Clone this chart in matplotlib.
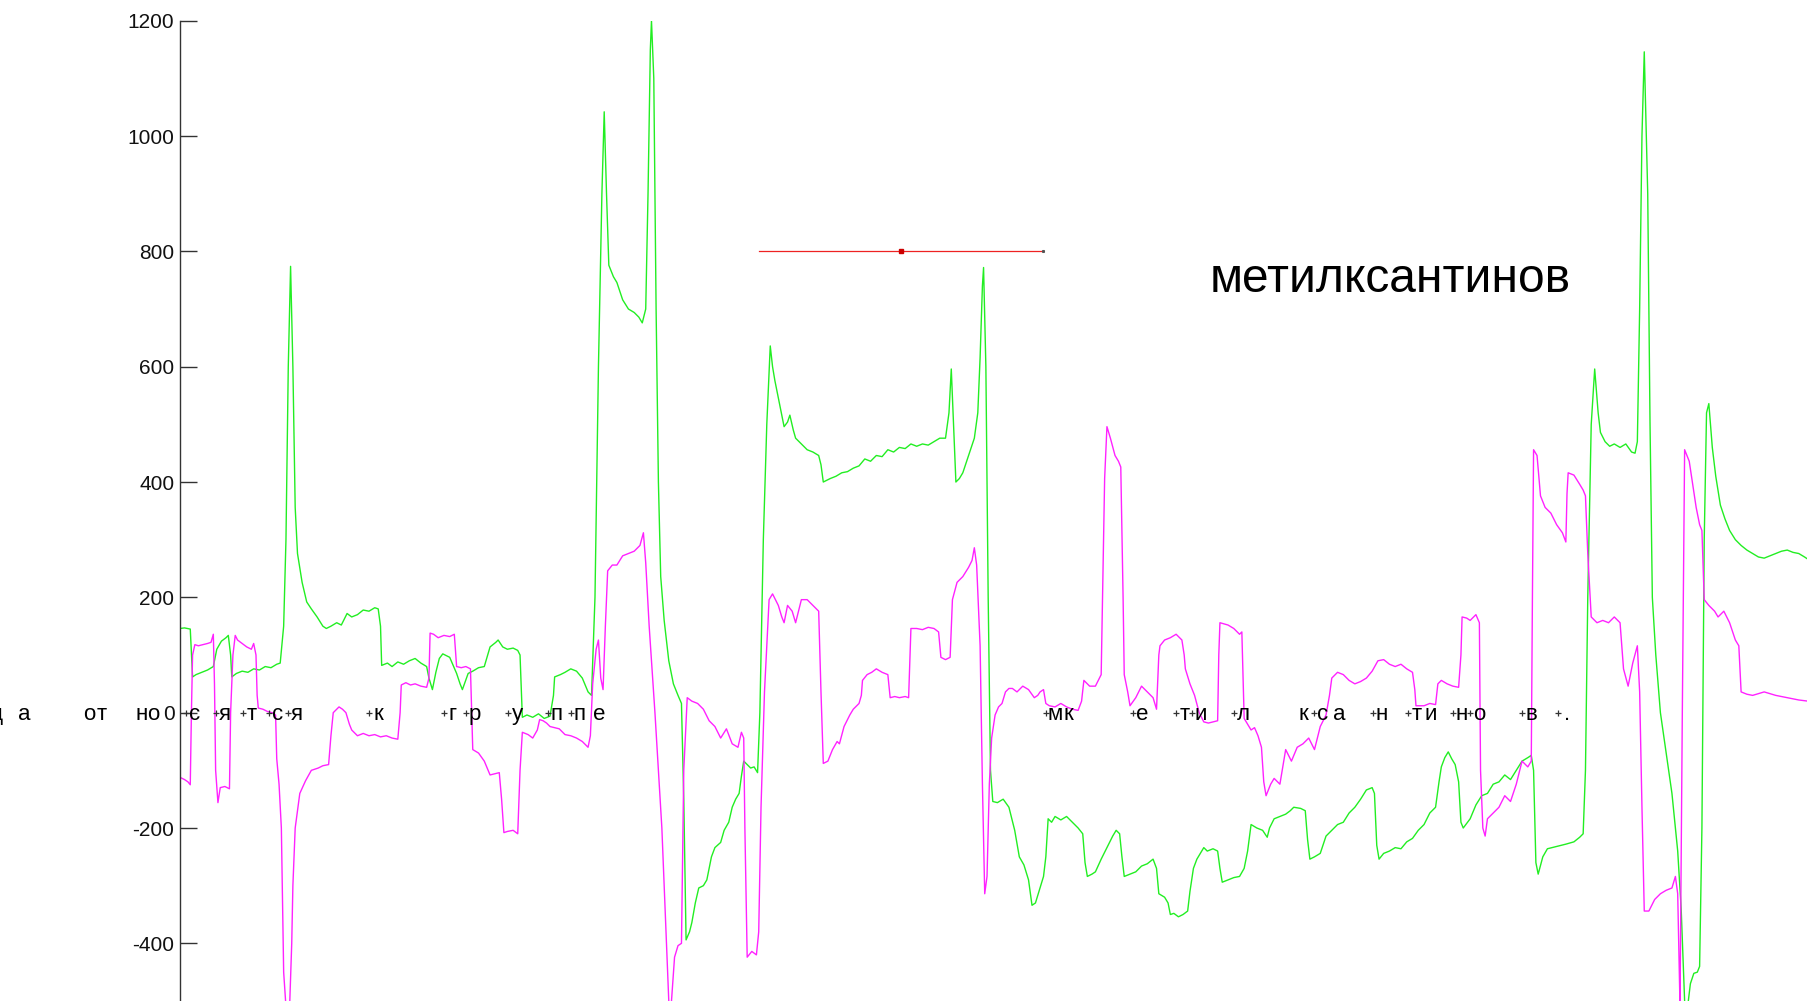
import matplotlib
matplotlib.use("Agg")
import matplotlib.pyplot as plt

plt.rcParams['font.family'] = ['Liberation Sans', 'DejaVu Sans']

# ---- data (x in chart units, y values) ----
green_t = [156,160,165,167,170,175,180,185,188,192,196,198,200,201,205,210,215,220,225,230,235,240,243,246,248,250,252,254,256,258,262,266,270,275,280,283,287,292,296,301,305,310,315,320,325,328,330,331,336,340,345,350,355,360,365,370,372,375,378,381,384,390,396,399,401,406,410,415,420,425,430,432,436,440,445,449,451,453,457,462,467,472,477,480,481,486,490,495,500,505,510,513,516,519,522,524,526,528,532,535,540,545,550,554,557,560,562,564,565,567,569,571,573,576,580,584,588,591,593,595,598,600,603,606,610,613,617,620,625,628,632,635,638,641,643,645,648,651,654,657,659,662,665,668,670,672,676,680,683,685,688,690,695,700,705,710,712,714,720,725,730,735,740,745,750,755,760,765,770,775,780,785,790,795,800,805,810,815,820,823,825,827,829,832,835,840,845,848,850,852,853,855,857,859,861,865,870,875,880,884,888,892,895,898,901,905,907,909,912,915,920,925,930,935,939,941,943,947,950,955,960,965,968,971,973,975,980,985,990,995,1000,1003,1005,1010,1013,1015,1018,1022,1026,1030,1032,1035,1038,1041,1044,1047,1052,1056,1058,1060,1065,1070,1075,1079,1082,1085,1090,1095,1099,1101,1105,1110,1115,1119,1122,1128,1132,1134,1136,1140,1145,1150,1155,1160,1165,1170,1175,1180,1185,1190,1192,1194,1196,1200,1205,1210,1215,1220,1225,1230,1235,1240,1245,1248,1250,1253,1256,1259,1262,1265,1267,1269,1272,1275,1280,1285,1290,1295,1300,1305,1310,1315,1320,1325,1328,1330,1332,1334,1338,1342,1350,1358,1365,1370,1373,1375,1377,1380,1383,1386,1388,1392,1396,1400,1405,1410,1415,1418,1420,1422,1424,1426,1429,1431,1433,1436,1440,1445,1450,1455,1458,1461,1463,1466,1469,1472,1474,1476,1478,1480,1482,1485,1488,1492,1496,1500,1505,1510,1515,1520,1525,1530,1535,1540,1545,1550,1555,1560,1565,1568]
green_v = [146,147,145,62,66,70,74,80,110,124,130,134,100,62,68,72,70,76,74,80,78,84,86,150,300,600,774,600,356,276,226,192,180,166,150,146,150,156,152,172,166,170,178,176,182,180,150,82,86,80,88,84,90,94,86,80,60,40,70,94,102,96,68,50,40,68,72,78,80,114,122,126,114,110,112,108,100,-8,-4,-8,-2,-10,-6,30,62,66,70,76,72,60,36,30,200,600,900,1042,900,776,756,746,716,700,694,686,676,700,900,1150,1200,1100,700,400,236,160,90,50,30,16,-150,-394,-380,-364,-330,-304,-300,-290,-250,-234,-225,-204,-190,-164,-150,-140,-110,-84,-90,-96,-94,-104,0,300,500,636,600,576,536,496,504,516,490,476,466,456,452,446,430,400,406,410,416,418,424,428,440,436,446,444,456,452,460,458,466,462,466,464,470,476,476,520,596,500,400,406,416,446,476,520,616,740,772,600,200,-100,-154,-156,-150,-164,-204,-250,-264,-290,-334,-330,-310,-284,-250,-184,-190,-180,-186,-180,-190,-200,-210,-260,-284,-280,-276,-254,-234,-214,-204,-210,-250,-284,-280,-276,-266,-262,-254,-270,-314,-320,-330,-350,-348,-354,-350,-344,-310,-270,-254,-244,-234,-240,-236,-240,-270,-294,-290,-286,-284,-270,-240,-194,-200,-204,-216,-200,-184,-180,-176,-170,-164,-166,-170,-220,-254,-250,-244,-214,-204,-194,-190,-174,-164,-150,-134,-130,-140,-230,-254,-244,-240,-234,-236,-224,-218,-204,-194,-174,-164,-120,-94,-78,-68,-80,-90,-120,-190,-200,-192,-184,-160,-144,-140,-124,-120,-108,-116,-100,-84,-78,-74,-100,-260,-280,-250,-236,-232,-228,-224,-216,-210,-100,200,500,596,520,486,470,462,466,460,466,452,450,470,700,1000,1146,900,500,200,100,0,-70,-140,-240,-340,-500,-520,-470,-452,-450,-440,-200,300,520,536,460,410,360,336,316,300,290,282,276,270,268,272,276,280,282,278,276,270,266]

magenta_t = [156,160,163,165,166,167,169,172,176,180,183,185,186,187,189,191,195,199,200,202,204,206,210,214,218,220,222,223,224,228,232,236,239,240,242,244,246,248,251,253,254,256,260,265,270,276,280,285,287,289,292,294,297,300,303,305,310,315,320,325,330,335,340,345,347,348,352,356,360,365,370,372,373,376,380,385,390,394,396,400,404,408,410,415,420,425,429,433,435,437,440,445,449,451,453,458,462,466,468,471,474,477,481,485,490,495,500,505,510,512,514,517,519,521,523,525,527,531,535,540,545,550,555,558,560,563,566,568,571,574,577,580,582,585,588,591,593,596,600,605,610,615,620,625,630,635,640,643,645,646,648,652,656,658,660,663,667,670,675,678,680,683,687,690,693,695,700,705,710,712,714,718,722,726,728,732,737,740,745,747,748,752,756,760,765,770,772,776,780,785,788,790,795,800,805,810,814,816,820,824,826,830,835,840,843,845,847,849,850,852,854,856,858,860,863,866,869,872,875,878,882,887,892,897,900,902,905,907,910,915,920,925,930,935,938,940,945,950,955,957,958,960,963,967,970,972,974,975,978,980,985,990,995,1000,1003,1005,1006,1010,1015,1020,1025,1027,1028,1032,1036,1040,1044,1048,1052,1056,1057,1058,1065,1070,1075,1077,1079,1082,1085,1088,1091,1094,1096,1098,1102,1105,1110,1115,1120,1125,1130,1135,1140,1145,1150,1153,1155,1160,1165,1170,1175,1180,1185,1190,1195,1200,1205,1210,1215,1220,1225,1227,1228,1235,1240,1245,1247,1250,1255,1260,1265,1267,1268,1272,1275,1280,1283,1284,1286,1288,1290,1295,1300,1305,1310,1315,1320,1325,1328,1329,1330,1333,1336,1340,1345,1350,1355,1358,1359,1360,1365,1370,1373,1375,1377,1380,1385,1390,1395,1400,1405,1408,1412,1416,1420,1422,1424,1426,1430,1435,1440,1445,1450,1453,1455,1457,1459,1461,1465,1468,1471,1474,1476,1478,1482,1487,1490,1495,1500,1505,1508,1510,1515,1520,1530,1540,1550,1560,1568]
magenta_v = [-112,-116,-120,-125,0,100,118,116,118,120,122,136,50,-100,-156,-130,-128,-132,0,100,134,126,120,114,110,120,100,30,8,6,2,0,-4,-80,-124,-200,-450,-510,-520,-400,-300,-200,-140,-118,-100,-96,-92,-90,-40,0,6,10,6,0,-20,-30,-40,-36,-40,-38,-42,-40,-44,-46,0,48,52,48,50,46,44,60,138,136,130,134,132,136,80,78,80,76,-64,-70,-84,-108,-106,-104,-150,-208,-206,-204,-210,-100,-34,-38,-44,-30,-12,-14,-18,-24,-26,-28,-38,-40,-44,-50,-60,-40,50,110,126,60,40,150,246,256,256,272,276,280,290,312,260,150,60,0,-100,-200,-350,-500,-510,-424,-404,-400,-100,26,20,16,6,-14,-24,-44,-28,-54,-60,-34,-44,-200,-424,-414,-420,-380,-164,36,196,206,186,166,156,186,176,156,180,196,196,186,176,36,-88,-84,-64,-50,-54,-24,-4,6,16,30,56,66,70,76,70,66,26,28,26,28,26,146,146,144,148,146,140,96,92,96,196,226,236,252,264,286,256,160,116,-124,-314,-284,-124,-44,-4,10,16,36,42,42,36,46,40,26,30,36,40,16,12,10,16,10,6,4,20,56,46,46,66,300,406,496,476,446,436,426,200,66,36,12,26,46,36,26,6,100,116,126,130,136,126,100,76,50,30,0,-16,-18,-16,-14,100,156,152,146,136,140,-10,-20,-30,-26,-40,-60,-120,-144,-124,-114,-124,-64,-84,-60,-54,-44,-64,-24,-4,30,60,70,66,56,50,54,60,72,90,92,84,80,84,76,70,40,12,12,16,14,50,56,50,46,44,100,166,164,160,170,156,-100,-200,-214,-184,-174,-164,-144,-154,-124,-84,-94,-84,200,456,446,376,356,346,326,312,296,380,416,412,396,386,376,276,166,156,160,156,166,156,76,46,86,116,36,-164,-344,-344,-324,-314,-308,-304,-284,-314,-510,0,456,436,396,356,326,316,196,186,176,166,176,156,126,116,36,32,30,36,30,26,22,20]

yticks = [1200, 1000, 800, 600, 400, 200, 0, -200, -400]

sentence_chars = ['д','а','о','т','н','о','с','я','т','с','я','к','г','р','у','п','п','е',
                  'м','к','е','т','и','л','к','с','а','н','т','и','н','о','в','.']
sentence_x = [-3.5,20.8,77.2,88.5,122.7,132.7,169.1,195.1,218.5,241.1,257.6,327.8,392.9,411.9,448.4,483.0,503.0,519.5,
              914.9,926.2,990.4,1027.7,1041.5,1078.0,1130.0,1147.3,1161.2,1198.5,1228.9,1241.0,1267.9,1282.6,1327.7,1359.0]
sentence_mark = [0,0,0,0,0,0,1,1,1,1,1,1,1,1,1,1,1,0,
                 1,0,1,1,1,1,0,1,0,1,1,0,1,1,1,1]

big_word = 'метилксантинов'
red_x = [658.2, 781.3, 904.5]
red_y = [800, 800, 800]

# ---- figure ----
fig = plt.figure(figsize=(18.08, 10.01), dpi=100)
ax = fig.add_axes([180/1808, 0.0, 1 - 180/1808, (1001 - 20.7)/1001])
ax.set_xlim(156.1, 1568)
ax.set_ylim(-500, 1200)

ax.plot(green_t, green_v, color='#22ee22', lw=1.0)
ax.plot(magenta_t, magenta_v, color='#ff22ff', lw=1.0)

ax.plot(red_x, red_y, color='#ee2222', lw=0.9)
ax.plot([red_x[1]], [red_y[1]], marker='s', ms=2.2, color='#cc0000')
ax.plot([red_x[2]], [red_y[2]], marker='s', ms=1.2, color='#555555')

for ch, x, m in zip(sentence_chars, sentence_x, sentence_mark):
    ax.text(x, -13, ch, ha='center', va='baseline', fontsize=16, color='black', clip_on=False)
    if m:
        ax.plot([x - 8.0], [0], marker='+', ms=5, mew=0.9, color='#333333', clip_on=True)

ax.text(1049.4, 729.6, big_word, ha='left', va='baseline', fontsize=34.5, color='black')

for s in ['top', 'right', 'bottom']:
    ax.spines[s].set_visible(False)
ax.spines['left'].set_color('#333333')
ax.spines['left'].set_linewidth(1.0)
ax.set_xticks([])
ax.set_yticks(yticks)
ax.set_yticklabels([str(v) for v in yticks])
ax.tick_params(axis='y', direction='in', length=12, width=1.0, color='#333333',
               labelsize=15, pad=4, labelcolor='#111111')

fig.savefig('out.png', dpi=100)
